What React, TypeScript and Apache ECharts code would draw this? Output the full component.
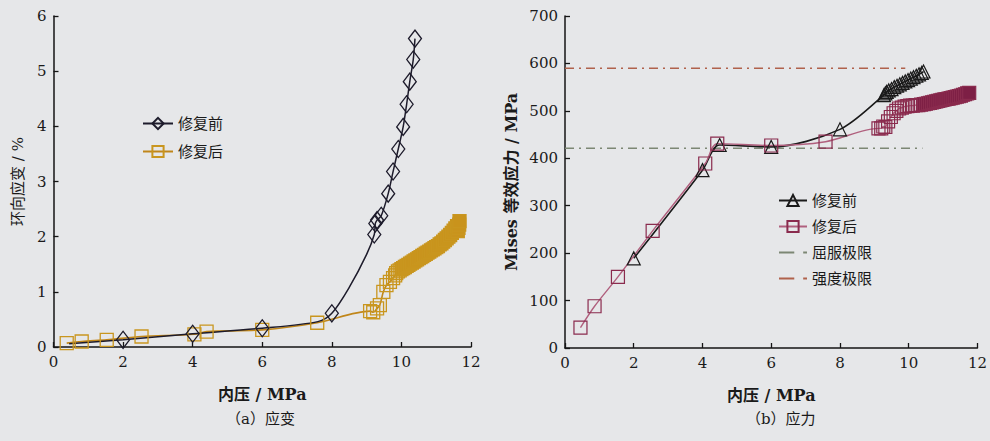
import React, { useEffect, useRef } from 'react';
import * as echarts from 'echarts';

// ---------- (a) strain chart data: [pressure MPa, hoop strain %] ----------
const strainBeforeMarked: [number, number][] = [
  [2.0, 0.13], [4.0, 0.24], [6.0, 0.34], [8.0, 0.61], [9.22, 2.04], [9.25, 2.24],
  [9.3, 2.3], [9.42, 2.38], [9.62, 2.78], [9.76, 3.18], [9.91, 3.59], [10.05, 3.99],
  [10.15, 4.4], [10.24, 4.81], [10.34, 5.21], [10.39, 5.59],
];
const strainBeforeLineOnly: [number, number][] = [
  [0.45, 0.06], [7.6, 0.46], [8.5, 1.08], [9.0, 1.68],
];
const strainAfterMarked: [number, number][] = [
  [0.38, 0.07], [0.81, 0.1], [1.53, 0.13], [2.53, 0.19], [4.05, 0.23], [4.4, 0.28],
  [6.0, 0.31], [7.58, 0.44], [9.1, 0.65], [9.19, 0.63], [9.3, 0.7], [9.38, 0.76],
  [9.48, 1.0], [9.57, 1.12], [9.67, 1.18], [9.76, 1.25], [9.82, 1.3], [9.85, 1.34],
  [9.9, 1.37], [9.95, 1.39], [10.0, 1.41], [10.05, 1.43], [10.1, 1.45], [10.15, 1.47],
  [10.2, 1.49], [10.25, 1.51], [10.3, 1.53], [10.35, 1.55], [10.4, 1.57], [10.45, 1.59],
  [10.5, 1.61], [10.55, 1.63], [10.6, 1.65], [10.65, 1.67], [10.7, 1.69], [10.75, 1.71],
  [10.8, 1.73], [10.85, 1.75], [10.9, 1.77], [10.95, 1.79], [11.0, 1.81], [11.05, 1.83],
  [11.1, 1.86], [11.15, 1.88], [11.2, 1.91], [11.25, 1.94], [11.3, 1.97], [11.35, 2.0],
  [11.4, 2.03], [11.45, 2.07], [11.5, 2.11], [11.55, 2.15], [11.6, 2.19], [11.62, 2.1],
  [11.64, 2.16], [11.66, 2.22], [11.67, 2.28],
];

// ---------- (b) stress chart data: [pressure MPa, Mises stress MPa] ----------
const stressBeforeMarked: [number, number][] = [
  [2.0, 189], [4.0, 375], [4.5, 428], [6.0, 424], [8.0, 461], [9.28, 533], [9.32, 537],
  [9.36, 540], [9.42, 543], [9.5, 546], [9.58, 550], [9.66, 553], [9.74, 556], [9.82, 559],
  [9.9, 562], [9.98, 565], [10.06, 568], [10.14, 571], [10.22, 574], [10.3, 577],
  [10.38, 580], [10.43, 583],
];
const stressAfterMarked: [number, number][] = [
  [0.45, 43], [0.86, 88], [1.54, 150], [2.55, 247], [4.08, 389], [4.43, 431], [6.0, 427],
  [7.58, 435], [9.12, 463], [9.2, 463], [9.26, 467], [9.32, 466], [9.4, 478], [9.48, 487],
  [9.56, 495], [9.64, 500], [9.72, 505], [9.8, 507], [9.88, 509], [9.96, 510], [10.04, 511],
  [10.12, 511], [10.2, 512], [10.28, 512], [10.36, 513], [10.44, 514], [10.5, 515],
  [10.56, 516], [10.62, 517], [10.68, 518], [10.74, 519], [10.8, 520], [10.86, 521],
  [10.92, 522], [10.98, 523], [11.04, 524], [11.1, 525], [11.16, 526], [11.22, 527],
  [11.28, 528], [11.34, 529], [11.4, 530], [11.46, 531], [11.52, 532], [11.58, 534],
  [11.64, 535], [11.7, 537], [11.76, 538],
];
const yieldLimit: [number, number][] = [[0, 421], [10.4, 421]];
const strengthLimit: [number, number][] = [[0, 590], [9.9, 590]];

const xTickInterval = 2;
const strainMax = 6;
const stressMax = 700;

const NUM_FONT = "'DejaVu Serif', 'Noto Sans CJK SC', serif";
const CJK_FONT = "'DejaVu Serif', 'Noto Sans CJK SC', sans-serif";
const BG = '#e6e7e9';
const DASH_DOT_ICON = 'path://M0,0h12v1.6h-12z M19,0h3v1.6h-3z';

function mergePoints(
  marked: [number, number][],
  lineOnly: [number, number][],
  fillFrom = Infinity,
  fillColor = 'transparent'
) {
  const all = [
    ...marked.map((p) => ({ value: p, m: true })),
    ...lineOnly.map((p) => ({ value: p, m: false })),
  ].sort((a, b) => a.value[0] - b.value[0]);
  return all.map((d) => {
    if (!d.m) return { value: d.value, symbol: 'none' };
    if (d.value[0] >= fillFrom) return { value: d.value, itemStyle: { color: fillColor } };
    return { value: d.value };
  });
}

export default function App() {
  const ref = useRef<HTMLDivElement>(null);
  useEffect(() => {
    document.body.style.margin = '0';
    document.body.style.background = BG;
    const chart = echarts.init(ref.current!, null, { renderer: 'svg' });
    const axisLine = { show: true, lineStyle: { color: '#151515', width: 1.5 } };
    const axisTick = { show: true, inside: true, length: 5, lineStyle: { color: '#151515', width: 1.3 } };
    const axisLabel = { color: '#1a1a1a', fontSize: 15, fontFamily: NUM_FONT, margin: 7 };
    const xAxisBase = (gridIndex: number) => ({
      gridIndex,
      type: 'value',
      min: 0,
      max: 12,
      interval: xTickInterval,
      axisLine,
      axisTick,
      axisLabel,
      splitLine: { show: false },
      name: '内压 / MPa',
      nameLocation: 'middle',
      nameGap: 39,
      nameTextStyle: { color: '#1a1a1a', fontSize: 16, fontWeight: 'bold', fontFamily: CJK_FONT },
    });
    const option: any = {
      animation: false,
      backgroundColor: BG,
      textStyle: { fontFamily: CJK_FONT },
      grid: [
        { left: 53.5, top: 16, width: 417.5, height: 331 },
        { left: 565, top: 16, width: 414, height: 332 },
      ],
      xAxis: [xAxisBase(0), xAxisBase(1)],
      yAxis: [
        {
          gridIndex: 0,
          type: 'value',
          min: 0,
          max: strainMax,
          interval: 1,
          axisLine,
          axisTick,
          axisLabel,
          splitLine: { show: false },
          name: '环向应变 / %',
          nameLocation: 'middle',
          nameGap: 28,
          nameTextStyle: { color: '#1a1a1a', fontSize: 15, fontFamily: CJK_FONT },
        },
        {
          gridIndex: 1,
          type: 'value',
          min: 0,
          max: stressMax,
          interval: 100,
          axisLine,
          axisTick,
          axisLabel,
          splitLine: { show: false },
          name: 'Mises 等效应力 / MPa',
          nameLocation: 'middle',
          nameGap: 46,
          nameTextStyle: { color: '#1a1a1a', fontSize: 16, fontWeight: 'bold', fontFamily: CJK_FONT },
        },
      ],
      legend: [
        {
          orient: 'vertical',
          left: 137,
          top: 111,
          itemGap: 13,
          itemWidth: 30,
          itemHeight: 14,
          data: ['修复前', '修复后'],
          textStyle: { color: '#1a1a1a', fontSize: 15, fontFamily: CJK_FONT },
        },
        {
          orient: 'vertical',
          left: 773,
          top: 188,
          itemGap: 11,
          itemWidth: 28,
          itemHeight: 14,
          data: [
            '修复前_b',
            '修复后_b',
            { name: '屈服极限_b', icon: DASH_DOT_ICON },
            { name: '强度极限_b', icon: DASH_DOT_ICON },
          ],
          formatter: (n: string) => n.replace('_b', ''),
          textStyle: { color: '#1a1a1a', fontSize: 15, fontFamily: CJK_FONT },
        },
      ],
      series: [
        {
          name: '修复后',
          type: 'line',
          xAxisIndex: 0,
          yAxisIndex: 0,
          smooth: 0.3,
          data: mergePoints(strainAfterMarked, [], 9.97, '#c9931c'),
          symbol: 'rect',
          symbolSize: 13,
          lineStyle: { color: '#c0861a', width: 1.6 },
          itemStyle: { color: 'rgba(0,0,0,0)', borderColor: '#c9961f', borderWidth: 1.3 },
        },
        {
          name: '修复前',
          type: 'line',
          xAxisIndex: 0,
          yAxisIndex: 0,
          smooth: 0.3,
          data: mergePoints(strainBeforeMarked, strainBeforeLineOnly),
          symbol: 'diamond',
          symbolSize: [13, 17],
          lineStyle: { color: '#1d1b2b', width: 1.5 },
          itemStyle: { color: 'rgba(0,0,0,0)', borderColor: '#1d1b2b', borderWidth: 1.3 },
        },
        {
          name: '修复前_b',
          type: 'line',
          xAxisIndex: 1,
          yAxisIndex: 1,
          smooth: 0.3,
          data: mergePoints(stressBeforeMarked, []),
          symbol: 'triangle',
          symbolSize: 13,
          lineStyle: { color: '#1a1a1a', width: 1.6 },
          itemStyle: { color: 'rgba(0,0,0,0)', borderColor: '#1a1a1a', borderWidth: 1.2 },
        },
        {
          name: '修复后_b',
          type: 'line',
          xAxisIndex: 1,
          yAxisIndex: 1,
          smooth: 0.3,
          data: mergePoints(stressAfterMarked, [], 10.4, '#7d1f45'),
          symbol: 'rect',
          symbolSize: 13,
          lineStyle: { color: '#b0607e', width: 1.4 },
          itemStyle: { color: 'rgba(0,0,0,0)', borderColor: '#8a2b4e', borderWidth: 1.2 },
        },
        {
          name: '屈服极限_b',
          type: 'line',
          xAxisIndex: 1,
          yAxisIndex: 1,
          data: yieldLimit,
          symbol: 'none',
          lineStyle: { color: '#7c8774', width: 1.5, type: [9, 5, 2, 5] },
          itemStyle: { color: '#7c8774' },
          z: 1,
        },
        {
          name: '强度极限_b',
          type: 'line',
          xAxisIndex: 1,
          yAxisIndex: 1,
          data: strengthLimit,
          symbol: 'none',
          lineStyle: { color: '#b0624c', width: 1.5, type: [9, 5, 2, 5] },
          itemStyle: { color: '#b0624c' },
          z: 1,
        },
      ],
      graphic: [
        {
          type: 'text',
          left: 262 - 36,
          top: 411,
          style: { text: '（a）应变', fill: '#1a1a1a', fontSize: 15, fontFamily: CJK_FONT },
        },
        {
          type: 'text',
          left: 782 - 36,
          top: 411,
          style: { text: '（b）应力', fill: '#1a1a1a', fontSize: 15, fontFamily: CJK_FONT },
        },
      ],
    };
    chart.setOption(option);
    return () => chart.dispose();
  }, []);
  return (
    <div
      ref={ref}
      style={{ position: 'fixed', left: 0, top: 0, width: 990, height: 441, background: BG }}
    />
  );
}
